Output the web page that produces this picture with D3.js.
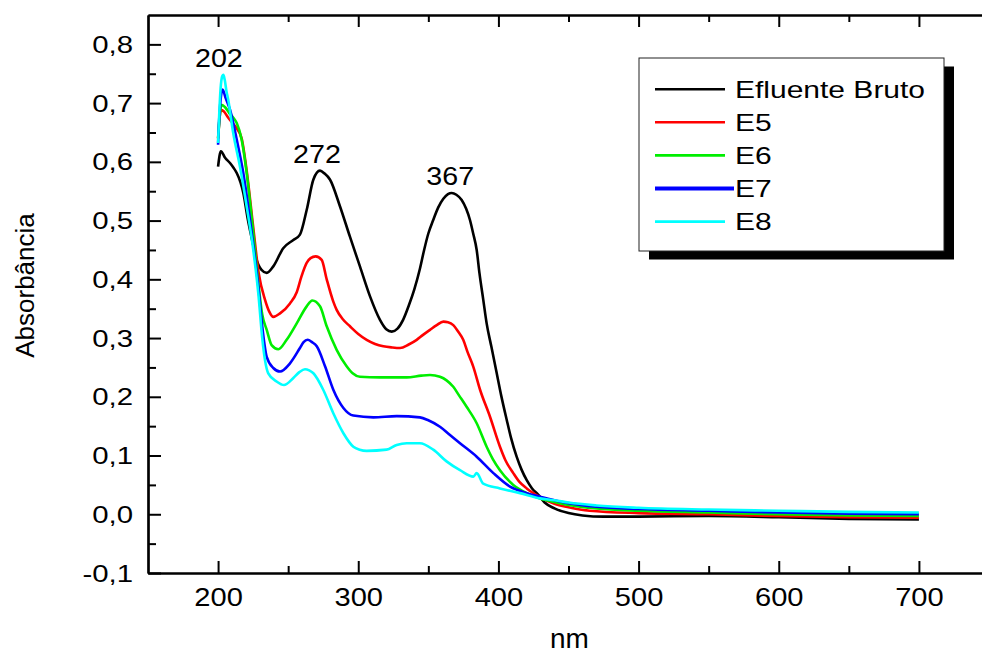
<!DOCTYPE html>
<html>
<head>
<meta charset="utf-8">
<script src="https://cdn.jsdelivr.net/npm/d3@7"></script>
<style>
  html, body { margin: 0; padding: 0; background: #fff; }
  svg { display: block; }
  text { font-family: "Liberation Sans", Arial, Helvetica, sans-serif; fill: #000; }
</style>
</head>
<body>
<svg id="chart" width="982" height="655"></svg>
<script>
// ---------------- DATA ----------------
const seriesNames = ["Efluente Bruto", "E5", "E6", "E7", "E8"];

const efluenteBruto = [
  [200,0.592],[202,0.618],[205,0.607],[208.5,0.598],[211,0.590],[213.3,0.581],[216,0.565],[218,0.547],
  [221,0.505],[224,0.470],[227.5,0.433],[231,0.416],[234.7,0.411],[239.4,0.422],[246.5,0.453],
  [253.7,0.467],[258.4,0.476],[263.2,0.518],[268,0.570],[272.7,0.585],[276,0.580],[279.8,0.570],
  [287,0.524],[294,0.473],[301.2,0.422],[308.4,0.371],[315.5,0.331],[320,0.315],[323.9,0.311],
  [328,0.316],[332,0.331],[336,0.355],[340,0.383],[344,0.418],[347,0.450],[350,0.478],[353.5,0.501],
  [357,0.522],[360.7,0.537],[364,0.545],[366.7,0.547],[370,0.544],[373.8,0.535],[377,0.520],
  [379.7,0.501],[382,0.478],[384.5,0.450],[386.5,0.410],[389.2,0.365],[391.6,0.325],[395,0.285],
  [398.8,0.240],[402,0.202],[405.9,0.161],[409,0.130],[413,0.098],[416.5,0.076],[420.2,0.058],
  [424,0.044],[428.5,0.033],[433,0.020],[440,0.010],[450,0.002],[460,-0.002],[475,-0.004],
  [500,-0.004],[550,-0.003],[600,-0.005],[650,-0.008],[700,-0.009]
];

const e5 = [
  [200,0.640],[202,0.688],[204,0.686],[207,0.676],[210,0.667],[213.3,0.657],[216.8,0.640],
  [220.4,0.585],[225,0.490],[229,0.410],[233.5,0.365],[236.5,0.345],[239.4,0.336],[244.2,0.342],
  [251.3,0.359],[256.1,0.378],[259.5,0.405],[263.2,0.428],[266,0.436],[269.6,0.439],[273.9,0.433],
  [277.5,0.400],[282.2,0.362],[284.6,0.348],[289,0.332],[294.1,0.320],[300,0.307],[306,0.297],
  [312,0.290],[317.9,0.286],[324,0.284],[329.8,0.283],[336,0.289],[341.7,0.297],[346,0.305],
  [351.2,0.314],[356,0.322],[360.7,0.328],[364,0.327],[367.8,0.322],[371,0.312],[374.9,0.297],
  [378,0.276],[382.1,0.251],[386.9,0.212],[394,0.166],[401.1,0.115],[405,0.092],[410.6,0.070],
  [415,0.055],[420.2,0.044],[428.5,0.031],[440,0.018],[450,0.012],[465,0.006],[500,0.002],
  [550,0.000],[600,-0.003],[650,-0.005],[700,-0.006]
];

const e6 = [
  [200,0.640],[202.5,0.697],[205,0.693],[208,0.683],[210.9,0.675],[213.3,0.666],[216.8,0.638],
  [220.4,0.581],[225.1,0.479],[228.7,0.394],[231.5,0.340],[234.7,0.314],[238.2,0.288],[243,0.281],
  [248.9,0.297],[256.1,0.325],[263.2,0.354],[267.2,0.364],[272.7,0.354],[277.5,0.320],[284.6,0.280],
  [291.7,0.252],[296,0.240],[301.2,0.234],[315.5,0.233],[334.6,0.233],[345,0.236],[351.2,0.237],
  [358.3,0.234],[363,0.228],[367.8,0.217],[372,0.202],[377.3,0.183],[384.5,0.155],[391.6,0.115],
  [396,0.094],[401.1,0.075],[410.6,0.050],[420.2,0.036],[429.7,0.027],[440,0.021],[450,0.016],
  [470,0.010],[500,0.006],[550,0.003],[600,0.000],[650,-0.002],[700,-0.003]
];

const e7 = [
  [200,0.629],[200.3,0.650],[203.2,0.723],[205.5,0.708],[208.5,0.689],[213.3,0.638],[218,0.581],
  [224,0.479],[228.7,0.388],[231.5,0.320],[234.7,0.268],[239.4,0.249],[244.2,0.243],[251.3,0.257],
  [258.4,0.283],[261,0.293],[263.9,0.297],[267,0.293],[270.4,0.286],[276.3,0.252],[282.2,0.212],
  [289.4,0.181],[296.5,0.168],[310.8,0.165],[327.4,0.167],[344,0.165],[350,0.160],[358.3,0.149],
  [365,0.136],[372.6,0.121],[384.5,0.098],[396.4,0.070],[408.3,0.047],[420.2,0.036],[429.7,0.030],
  [440,0.024],[450,0.019],[470,0.013],[500,0.009],[550,0.006],[600,0.003],[650,0.001],[700,0.000]
];

const e8 = [
  [200,0.632],[200.8,0.680],[201.8,0.725],[203,0.746],[203.8,0.748],[204.7,0.740],[206,0.720],
  [207.2,0.706],[210.8,0.649],[215.6,0.592],[220.4,0.524],[225.1,0.450],[228.7,0.376],[231.5,0.300],
  [233.5,0.262],[235.8,0.240],[241.8,0.226],[247,0.220],[253.7,0.232],[258,0.242],[262,0.247],
  [265,0.245],[268,0.240],[275,0.212],[282.2,0.172],[289.4,0.138],[296.5,0.115],[301,0.110],
  [306,0.108],[320.2,0.110],[327.4,0.118],[334.6,0.121],[344,0.121],[353.5,0.110],[363,0.090],
  [372.6,0.075],[382.1,0.064],[384.5,0.070],[389.2,0.052],[401.1,0.044],[415.4,0.036],
  [429.7,0.027],[440,0.024],[450,0.020],[470,0.015],[500,0.011],[550,0.008],[600,0.006],
  [650,0.004],[700,0.003]
];

const seriesData = [efluenteBruto, e5, e6, e7, e8];

const xTickValues = [200, 300, 400, 500, 600, 700];
const xMinorTicks = [250, 350, 450, 550, 650, 750];
const yTickValues = [-0.1, 0, 0.1, 0.2, 0.3, 0.4, 0.5, 0.6, 0.7, 0.8];
const yMinorTicks = [-0.05, 0.05, 0.15, 0.25, 0.35, 0.45, 0.55, 0.65, 0.75];
const peakLabels = ["202", "272", "367"];
const peakPositions = [202, 272, 367];

const xTitle = "nm";
const yTitle = "Absorbância";

(function () {
// ---------------- STYLE / LAYOUT ----------------
const colors = ["#000000", "#ff0000", "#00ee00", "#0000ff", "#00ffff"];
const PL = 148, PR = 989, PT = 15, PB = 573;

const svg = d3.select("#chart");

const x = d3.scaleLinear().domain([150, 750]).range([PL, PR]);
const y = d3.scaleLinear().domain([-0.1, 0.85]).range([PB, PT]);

const fmt = d => d3.format(".1f")(d).replace(".", ",").replace("−", "-");

function styleAxis(g) {
  g.selectAll("path.domain").attr("stroke", "#000").attr("stroke-width", 2.2);
  g.selectAll(".tick line").attr("stroke", "#000").attr("stroke-width", 2);
}

// bottom major
const gxB = svg.append("g").attr("transform", `translate(0,${PB})`)
  .call(d3.axisBottom(x).tickValues(xTickValues).tickSize(-12).tickSizeOuter(0).tickPadding(0).tickFormat(d => d));
styleAxis(gxB);
gxB.selectAll("text")
  .attr("font-size", 26).attr("y", 0).attr("dy", 0).attr("fill", "#000")
  .attr("transform", "translate(0,32.7) scale(1.12,1)")
  .attr("font-family", '"Liberation Sans", Arial, sans-serif');
// bottom minor
const gxBm = svg.append("g").attr("transform", `translate(0,${PB})`)
  .call(d3.axisBottom(x).tickValues(xMinorTicks).tickSize(-7).tickSizeOuter(0).tickFormat(""));
styleAxis(gxBm);

// top major/minor
const gxT = svg.append("g").attr("transform", `translate(0,${PT})`)
  .call(d3.axisTop(x).tickValues(xTickValues).tickSize(-12).tickSizeOuter(0).tickFormat(""));
styleAxis(gxT);
const gxTm = svg.append("g").attr("transform", `translate(0,${PT})`)
  .call(d3.axisTop(x).tickValues(xMinorTicks).tickSize(-7).tickSizeOuter(0).tickFormat(""));
styleAxis(gxTm);

// left major
const gyL = svg.append("g").attr("transform", `translate(${PL},0)`)
  .call(d3.axisLeft(y).tickValues(yTickValues).tickSize(-13).tickSizeOuter(0).tickFormat(fmt));
styleAxis(gyL);
gyL.selectAll("text")
  .attr("font-size", 23.5).attr("x", 0).attr("dy", 0).attr("fill", "#000")
  .attr("text-anchor", "end")
  .attr("transform", "translate(-15,8) scale(1.25,1)")
  .attr("font-family", '"Liberation Sans", Arial, sans-serif');
// left minor
const gyLm = svg.append("g").attr("transform", `translate(${PL},0)`)
  .call(d3.axisLeft(y).tickValues(yMinorTicks).tickSize(-8).tickSizeOuter(0).tickFormat(""));
styleAxis(gyLm);

// --------- lines ----------
const line = d3.line()
  .x(d => x(d[0]))
  .y(d => y(d[1]))
  .curve(d3.curveMonotoneX);

const plot = svg.append("g");
seriesData.forEach((s, i) => {
  plot.append("path")
    .datum(s)
    .attr("fill", "none")
    .attr("stroke", colors[i])
    .attr("stroke-width", 2.6)
    .attr("stroke-linejoin", "round")
    .attr("d", line);
});

// --------- peak labels ----------
peakPositions.forEach((nm, i) => {
  let maxV = -Infinity;
  seriesData.forEach(s => s.forEach(d => { if (Math.abs(d[0] - nm) <= 2 && d[1] > maxV) maxV = d[1]; }));
  svg.append("text")
    .attr("text-anchor", "middle")
    .attr("font-size", 25.6)
    .attr("transform", `translate(${x(nm) - 2},${y(maxV) - 8}) scale(1.12,1)`)
    .text(peakLabels[i]);
});

// --------- axis titles ----------
svg.append("text")
  .attr("x", (PL + PR) / 2 + 1).attr("y", 648)
  .attr("text-anchor", "middle")
  .attr("font-size", 28)
  .text(xTitle);

svg.append("text")
  .attr("transform", `translate(33.5,285.5) rotate(-90)`)
  .attr("text-anchor", "middle")
  .attr("font-size", 26)
  .text(yTitle);

// --------- legend ----------
const lg = { x: 639, y: 58, w: 305, h: 193 };
svg.append("rect")
  .attr("x", lg.x + 10).attr("y", lg.y + 8.5)
  .attr("width", lg.w).attr("height", lg.h)
  .attr("fill", "#000");
svg.append("rect")
  .attr("x", lg.x).attr("y", lg.y)
  .attr("width", lg.w).attr("height", lg.h)
  .attr("fill", "#fff").attr("stroke", "#222").attr("stroke-width", 1);

seriesNames.forEach((name, i) => {
  const by = 97.5 + i * 33.1;
  const thick = name === "E7";
  svg.append("line")
    .attr("x1", 655).attr("x2", thick ? 734 : 725)
    .attr("y1", by - 8.3).attr("y2", by - 8.3)
    .attr("stroke", colors[i])
    .attr("stroke-width", thick ? 4 : 2.6);
  svg.append("text")
    .attr("font-size", 24)
    .attr("transform", `translate(735,${by}) scale(1.25,1)`)
    .text(name);
});
})();
</script>
</body>
</html>
